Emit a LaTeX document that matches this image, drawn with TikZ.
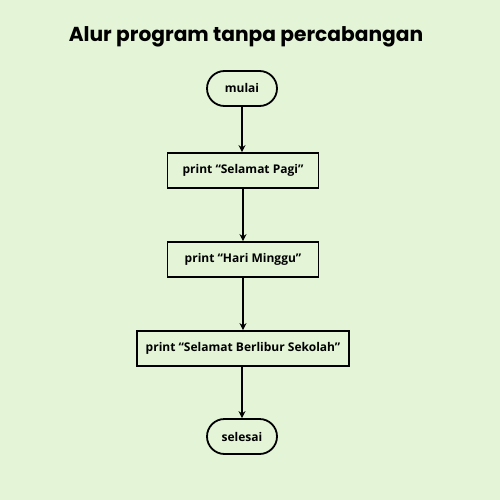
\documentclass[tikz,border=0pt]{standalone}
\usepackage{fontspec}
\setmainfont{Open Sans}
\newfontfamily\titlefont{Poppins}
\usetikzlibrary{arrows.meta,shapes.misc}
\definecolor{bg}{HTML}{E3F4D7}
\begin{document}
\begin{tikzpicture}[x=1pt,y=-1pt,
  term/.style={draw=black,line width=1.8pt,rounded rectangle,minimum width=70pt,minimum height=35pt,inner sep=0pt,font=\fontsize{12}{14}\selectfont\bfseries},
  proc/.style={draw=black,line width=1.8pt,rectangle,minimum height=35pt,inner sep=0pt,font=\fontsize{12}{14}\selectfont\bfseries},
  conn/.style={line width=1.8pt,-{Stealth[length=7pt,width=7pt]}}]
\fill[bg] (0,0) rectangle (500,500);
\useasboundingbox (0,0) rectangle (500,500);
\node[font=\titlefont\fontsize{20.2}{24}\selectfont\bfseries] (title) at (246,37) {Alur program tanpa percabangan};
\node[term] (start) at (242,88.5) {mulai};
\node[proc,minimum width=151pt] (p1) at (243,170.5) {print “Selamat Pagi”};
\node[proc,minimum width=151pt] (p2) at (243,259.5) {print “Hari Minggu”};
\node[proc,minimum width=212pt] (p3) at (243,348.5) {print “Selamat Berlibur Sekolah”};
\node[term] (end) at (242,436.5) {selesai};
\draw[conn] (start.south) -- (start.south |- p1.north);
\draw[conn] (p1) -- (p2);
\draw[conn] (p2) -- (p3);
\draw[conn] (p3.south) -- (p3.south -| end.north) -- (end.north);
\end{tikzpicture}
\end{document}
